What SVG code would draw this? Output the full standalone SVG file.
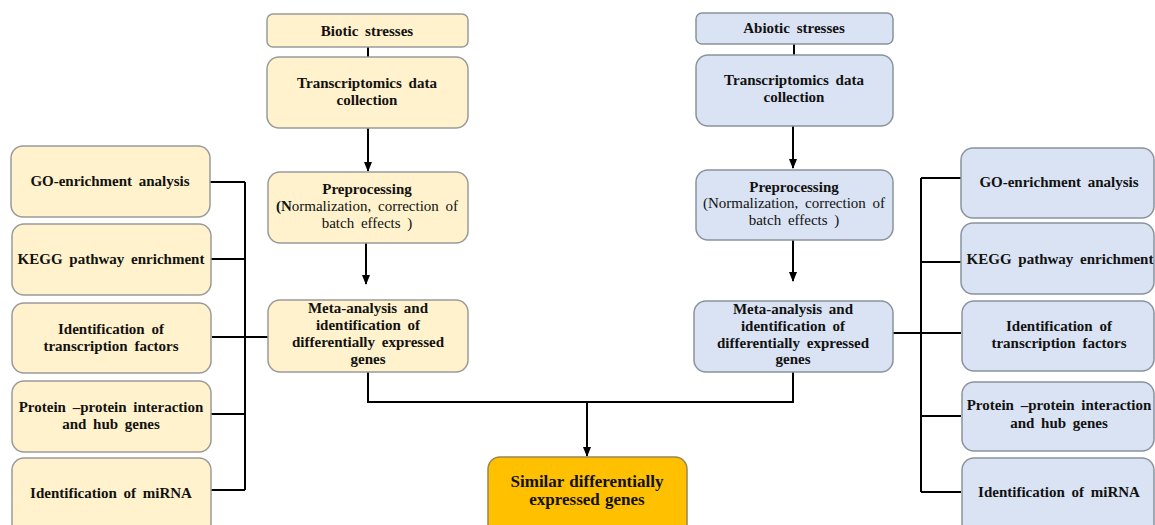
<svg xmlns="http://www.w3.org/2000/svg" width="1155" height="525" viewBox="0 0 1155 525">
<style>
.bio{fill:#FFF2CC;stroke:#9A9A9A;stroke-width:1.5}
.abio{fill:#DAE3F3;stroke:#8A939E;stroke-width:1.5}
.sim{fill:#FFC000;stroke:#9A8450;stroke-width:1.5}
text{font-family:"Liberation Serif","Times New Roman",serif;font-size:15px;fill:#111;text-anchor:middle;word-spacing:3px}
.b{font-weight:bold}
.big{font-size:17px;font-weight:bold;word-spacing:1px}
.ln{fill:none;stroke:#000;stroke-width:2}
</style>
<defs>
<marker id="ah" viewBox="0 0 10 8" refX="9" refY="4" markerWidth="5" markerHeight="4" orient="auto" markerUnits="strokeWidth">
<path d="M0,0 L10,4 L0,8 z" fill="#000"/>
</marker>
</defs>
<rect width="1155" height="525" fill="#fff"/>

<g id="connectors">
<path class="ln" d="M368,47 V57"/>
<path class="ln" d="M368,128 V171" marker-end="url(#ah)"/>
<path class="ln" d="M366,243 V284" marker-end="url(#ah)"/>
<path class="ln" d="M794,44 V55"/>
<path class="ln" d="M793,126 V168" marker-end="url(#ah)"/>
<path class="ln" d="M793,240 V281" marker-end="url(#ah)"/>
<path class="ln" d="M368,372 V402 H793 V372"/>
<path class="ln" d="M587,402 V456" marker-end="url(#ah)"/>
<path class="ln" d="M245,182 V490"/>
<path class="ln" d="M210,182 H245 M211,259 H245 M212,337 H268 M211,414 H245 M211,490 H245"/>
<path class="ln" d="M921,178 V492"/>
<path class="ln" d="M921,178 H961 M921,262 H961 M893,333 H961 M921,416 H961 M921,492 H961"/>
</g>

<g id="biotic-stresses">
<rect class="bio" x="267" y="14" width="201" height="33" rx="6"/>
<text class="b" x="367" y="36">Biotic stresses</text>
</g>
<g id="biotic-transcriptomics">
<rect class="bio" x="267" y="57" width="201" height="71" rx="12"/>
<text class="b" x="367" y="88">Transcriptomics data</text>
<text class="b" x="367" y="105">collection</text>
</g>
<g id="biotic-preprocessing">
<rect class="bio" x="268" y="172" width="200" height="71" rx="12"/>
<text class="b" x="367" y="194">Preprocessing</text>
<text x="367" y="211"><tspan class="b">(N</tspan>ormalization, correction of</text>
<text x="367" y="228">batch effects )</text>
</g>
<g id="biotic-meta">
<rect class="bio" x="268" y="300" width="200" height="72" rx="12"/>
<text class="b" x="368" y="313">Meta-analysis and</text>
<text class="b" x="368" y="330">identification of</text>
<text class="b" x="368" y="347">differentially expressed</text>
<text class="b" x="368" y="364">genes</text>
</g>

<g id="abiotic-stresses">
<rect class="abio" x="696" y="13" width="197" height="31" rx="6"/>
<text class="b" x="794" y="33">Abiotic stresses</text>
</g>
<g id="abiotic-transcriptomics">
<rect class="abio" x="696" y="55" width="197" height="71" rx="12"/>
<text class="b" x="794" y="85">Transcriptomics data</text>
<text class="b" x="794" y="102">collection</text>
</g>
<g id="abiotic-preprocessing">
<rect class="abio" x="696" y="170" width="197" height="70" rx="12"/>
<text class="b" x="794" y="192">Preprocessing</text>
<text x="794" y="208">(Normalization, correction of</text>
<text x="794" y="225">batch effects )</text>
</g>
<g id="abiotic-meta">
<rect class="abio" x="694" y="301" width="199" height="71" rx="12"/>
<text class="b" x="793" y="314">Meta-analysis and</text>
<text class="b" x="793" y="331">identification of</text>
<text class="b" x="793" y="348">differentially expressed</text>
<text class="b" x="793" y="364">genes</text>
</g>

<g id="similar-degs">
<rect class="sim" x="488" y="457" width="199" height="80" rx="12"/>
<text class="big" x="587" y="487">Similar differentially</text>
<text class="big" x="587" y="505">expressed genes</text>
</g>

<g id="left-go">
<rect class="bio" x="11" y="146" width="199" height="71" rx="12"/>
<text class="b" x="110" y="186">GO-enrichment analysis</text>
</g>
<g id="left-kegg">
<rect class="bio" x="12" y="224" width="199" height="71" rx="12"/>
<text class="b" x="111" y="264">KEGG pathway enrichment</text>
</g>
<g id="left-tf">
<rect class="bio" x="12" y="303" width="199" height="70" rx="12"/>
<text class="b" x="111" y="334">Identification of</text>
<text class="b" x="111" y="351">transcription factors</text>
</g>
<g id="left-ppi">
<rect class="bio" x="12" y="381" width="199" height="71" rx="12"/>
<text class="b" x="111" y="412">Protein –protein interaction</text>
<text class="b" x="111" y="429">and hub genes</text>
</g>
<g id="left-mirna">
<rect class="bio" x="12" y="458" width="199" height="78" rx="12"/>
<text class="b" x="111" y="498">Identification of miRNA</text>
</g>

<g id="right-go">
<rect class="abio" x="961" y="148" width="193" height="70" rx="12"/>
<text class="b" x="1059" y="187">GO-enrichment analysis</text>
</g>
<g id="right-kegg">
<rect class="abio" x="961" y="223" width="193" height="71" rx="12"/>
<text class="b" x="1060" y="264">KEGG pathway enrichment</text>
</g>
<g id="right-tf">
<rect class="abio" x="962" y="301" width="192" height="70" rx="12"/>
<text class="b" x="1059" y="331">Identification of</text>
<text class="b" x="1059" y="348">transcription factors</text>
</g>
<g id="right-ppi">
<rect class="abio" x="962" y="382" width="192" height="69" rx="12"/>
<text class="b" x="1059" y="410">Protein –protein interaction</text>
<text class="b" x="1059" y="428">and hub genes</text>
</g>
<g id="right-mirna">
<rect class="abio" x="962" y="458" width="192" height="78" rx="12"/>
<text class="b" x="1059" y="497">Identification of miRNA</text>
</g>
</svg>
